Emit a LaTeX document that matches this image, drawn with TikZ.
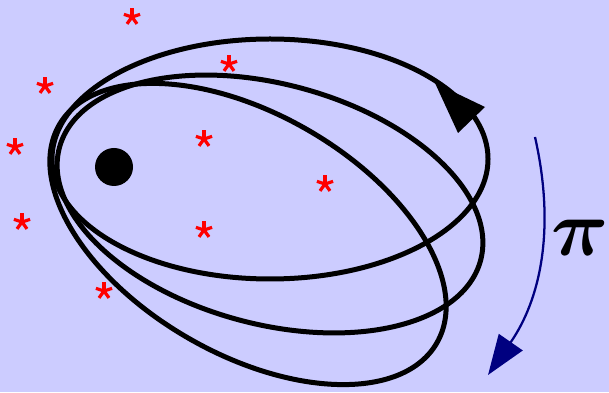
\documentclass[tikz,border=0pt]{standalone}
\usetikzlibrary{arrows.meta}

\definecolor{bgblue}{RGB}{204,204,255}
\definecolor{starred}{RGB}{255,0,0}
\definecolor{flownavy}{RGB}{0,0,128}

\begin{document}
\begin{tikzpicture}[
  x=0.75pt, y=0.75pt, >=Stealth,
  orbit/.style={draw=black, line width=3.75pt},
  sun/.style={circle, fill=black, inner sep=0pt, minimum size=28.5pt},
  flow/.style={draw=flownavy, line width=1.7pt, -{Triangle[length=30pt, width=21.5pt]}},
  aster/.pic={\foreach \a in {18,90,162,234,306} \draw[starred, line width=2.4pt] (0,0) -- (\a:8.5);}
]

  % Background
  \fill[bgblue] (0,0) rectangle (609,392);
  \useasboundingbox (0,0) rectangle (609,392);

  % ==================== ORBITS ====================
  \draw[orbit] (270,233) ellipse [x radius=218, y radius=120];
  \draw[orbit, rotate around={-15:(270,188)}] (270,188) ellipse [x radius=218, y radius=120];
  \draw[orbit, rotate around={-30:(248,158)}] (248,158) ellipse [x radius=218, y radius=120];

  % direction on the first orbit
  \fill[black] (435,309) -- (485,285) -- (458,259) -- cycle;

  % Central body
  \node[sun] (body) at (114,225) {};

  % ==================== SCATTERED STARS ====================
  \foreach \p in {(132,375), (229,328), (45,306), (204,253), (15,245),
                  (325,208), (22,170), (204,162), (104,101)}
    \pic at \p {aster};

  % ==================== ROTATION ====================
  \node[font=\Huge\boldmath, scale=2.4, inner sep=0pt] (pi) at (580,154) {$\pi$};
  \coordinate (rotstart) at (535,255);
  \coordinate (rotend) at (488,17);
  \draw[flow] (rotstart) .. controls (556,162) and (540,92) .. (rotend);

\end{tikzpicture}
\end{document}
